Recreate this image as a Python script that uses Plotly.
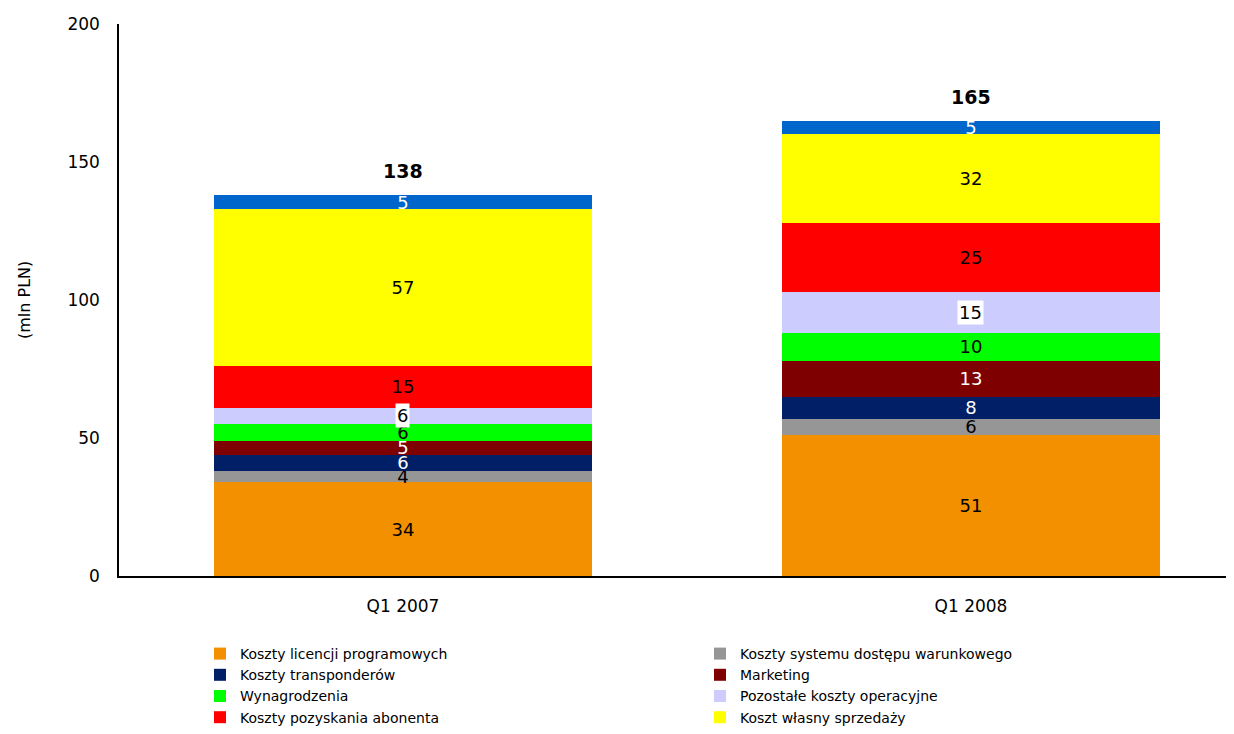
import plotly.graph_objects as go

categories = ["Q1 2007", "Q1 2008"]

series_names = [
    "Koszty licencji programowych",
    "Koszty systemu dostępu warunkowego",
    "Koszty transponderów",
    "Marketing",
    "Wynagrodzenia",
    "Pozostałe koszty operacyjne",
    "Koszty pozyskania abonenta",
    "Koszt własny sprzedaży",
    "Amortyzacja",
]

licencje = [34, 51]
dostep = [4, 6]
transpondery = [6, 8]
marketing = [5, 13]
wynagrodzenia = [6, 10]
pozostale = [6, 15]
pozyskanie = [15, 25]
koszt_wlasny = [57, 32]
amortyzacja = [5, 5]

totals = [138, 165]

series_values = [licencje, dostep, transpondery, marketing, wynagrodzenia,
                 pozostale, pozyskanie, koszt_wlasny, amortyzacja]
colors = ["#F39000", "#969696", "#001F66", "#7F0000", "#00FF00",
          "#CCCCFF", "#FF0000", "#FFFF00", "#0066CC"]
text_colors = ["black", "black", "white", "white", "black",
               "black", "black", "black", "white"]
legend_ids = ["legend", "legend2", "legend", "legend2", "legend",
              "legend2", "legend", "legend2", "legend"]

FONT = "DejaVu Sans"
W, H = 1218, 718
fig = go.Figure()
bar_width = 0.665

for i, (name, vals) in enumerate(zip(series_names, series_values)):
    boxed = name == "Pozostałe koszty operacyjne"
    fig.add_trace(go.Bar(
        x=categories, y=vals, name=name,
        marker=dict(color=colors[i], line=dict(width=0)),
        width=bar_width,
        text=None if boxed else [str(v) for v in vals],
        textposition="inside", insidetextanchor="middle",
        textangle=0, constraintext="none",
        textfont=dict(family=FONT, size=18, color=text_colors[i]),
        legend=legend_ids[i],
        hoverinfo="name+y",
    ))

# boxed labels for "Pozostałe koszty operacyjne"
idx = series_names.index("Pozostałe koszty operacyjne")
for j, cat in enumerate(categories):
    base = sum(series_values[k][j] for k in range(idx))
    v = series_values[idx][j]
    fig.add_annotation(x=cat, y=base + v / 2, text=str(v), showarrow=False,
                       bgcolor="white", borderpad=1,
                       font=dict(family=FONT, size=18, color="black"))

# totals
for j, cat in enumerate(categories):
    fig.add_annotation(x=cat, y=totals[j], text="<b>%d</b>" % totals[j],
                       showarrow=False, yshift=24,
                       font=dict(family=FONT, size=19, color="black"))

# y-axis title
fig.add_annotation(xref="paper", yref="paper", x=(16 - 111) / (W - 111), y=0.5,
                   text="(mln PLN)", textangle=-90, showarrow=False,
                   xanchor="center", yanchor="middle",
                   font=dict(family=FONT, size=16, color="black"))

legend_common = dict(xref="container", yref="container", y=1 - 630 / H,
                     xanchor="left", yanchor="top", traceorder="normal",
                     font=dict(family=FONT, size=14, color="black"),
                     bgcolor="rgba(0,0,0,0)", tracegroupgap=0, itemclick=False)

fig.update_layout(
    barmode="stack",
    width=W, height=H, autosize=False,
    margin=dict(l=111, r=0, t=16, b=150, autoexpand=False),
    plot_bgcolor="white", paper_bgcolor="white",
    font=dict(family=FONT, size=16, color="black"),
    legend=dict(x=192 / W, **legend_common),
    legend2=dict(x=692 / W, **legend_common),
    showlegend=True,
)

fig.update_xaxes(
    type="category", range=[-0.5, 1.449],
    showline=True, linecolor="black", linewidth=1.5,
    showgrid=False, ticks="", ticklabelstandoff=14, tickangle=0,
    tickfont=dict(family=FONT, size=17, color="black"),
)
fig.update_yaxes(
    range=[0, 200], tickvals=[0, 50, 100, 150, 200],
    showline=True, linecolor="black", linewidth=1.5,
    showgrid=False, zeroline=False, ticks="", ticklabelstandoff=14,
    tickfont=dict(family=FONT, size=17, color="black"),
)

fig.write_html("out.html")
